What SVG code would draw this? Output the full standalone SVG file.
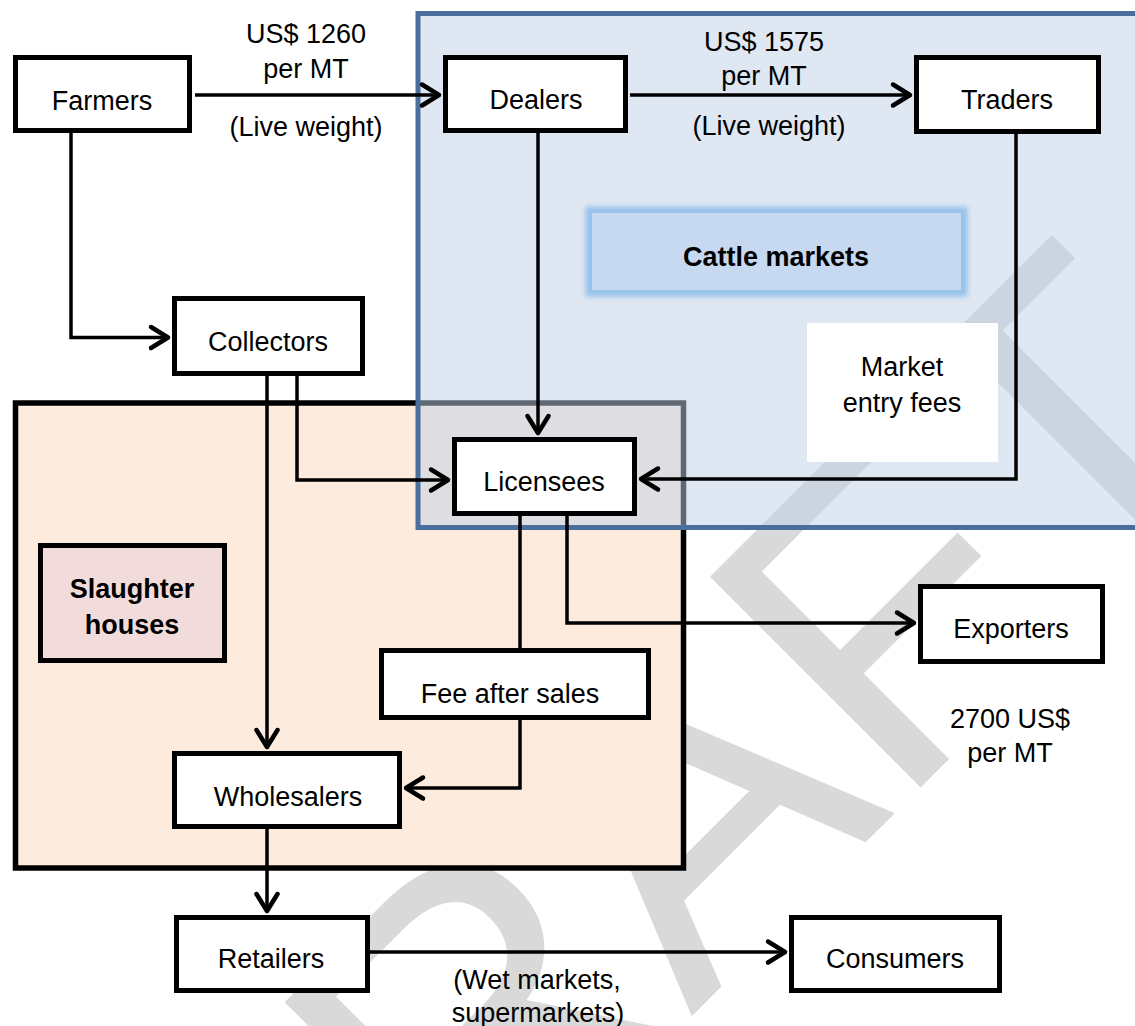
<svg xmlns="http://www.w3.org/2000/svg" width="1135" height="1026" viewBox="0 0 1135 1026">
<defs>
<style>
.box{fill:#fff;stroke:#000;stroke-width:5}
.conn{fill:none;stroke:#000;stroke-width:3.5}
.t{font-family:"Liberation Sans",Arial,sans-serif;font-size:27px;text-anchor:middle;fill:#000}
.b{font-weight:bold}
</style>
<marker id="arr" markerUnits="userSpaceOnUse" markerWidth="40" markerHeight="40" viewBox="-25 -20 30 40" refX="0" refY="0" orient="auto" overflow="visible">
<path d="M-17,-10.5 L0,0 L-17,10.5" fill="none" stroke="#000" stroke-width="4.5" stroke-linecap="round" stroke-linejoin="round"/>
</marker>
<filter id="blur" x="-20%" y="-50%" width="140%" height="200%">
<feGaussianBlur stdDeviation="2.5"/>
</filter>
</defs>
<rect width="1135" height="1026" fill="#fff"/>
<g id="watermark">
<text x="249" y="1459" transform="rotate(-45 249 1459)" font-family="Liberation Sans, Arial, sans-serif" font-size="433" fill="#d9d9d9">DRAFT</text>
</g>
<g id="slaughter-area">
<rect x="15.5" y="403" width="668" height="465" fill="#fdebde" stroke="#000" stroke-width="5.5"/>
</g>
<g id="slaughter-houses">
<rect x="40.5" y="545.5" width="184" height="115" fill="#f2dcdb" stroke="#000" stroke-width="5"/>
<text class="t b" x="132" y="598">Slaughter</text>
<text class="t b" x="132" y="634">houses</text>
</g>
<g id="market-area">
<rect x="418" y="13.5" width="730" height="514" fill="rgb(192,207,230)" fill-opacity="0.5" stroke="#4a6f9c" stroke-width="5"/>
</g>
<g id="cattle-markets">
<rect x="592" y="213" width="369" height="77" fill="none" stroke="#96c2ec" stroke-width="13" filter="url(#blur)"/>
<rect x="592" y="213" width="369" height="77" fill="#c6d9f0"/>
<text class="t b" x="776" y="266">Cattle markets</text>
</g>
<g id="market-entry-fees">
<rect x="807" y="323" width="191" height="139" fill="#fff"/>
<text class="t" x="902" y="376">Market</text>
<text class="t" x="902" y="412">entry fees</text>
</g>
<g id="connectors">
<path class="conn" d="M195,95 H439" marker-end="url(#arr)"/>
<path class="conn" d="M630,95 H910" marker-end="url(#arr)"/>
<path class="conn" d="M71,133 V337.5 H168" marker-end="url(#arr)"/>
<path class="conn" d="M538,133 V433" marker-end="url(#arr)"/>
<path class="conn" d="M297,376 V480 H448" marker-end="url(#arr)"/>
<path class="conn" d="M267,376 V747" marker-end="url(#arr)"/>
<path class="conn" d="M1016,134 V479 H641" marker-end="url(#arr)"/>
<path class="conn" d="M520,516 V648"/>
<path class="conn" d="M520,720 V788 H406" marker-end="url(#arr)"/>
<path class="conn" d="M567,516 V623 H914" marker-end="url(#arr)"/>
<path class="conn" d="M267,829 V911" marker-end="url(#arr)"/>
<path class="conn" d="M370,952 H785" marker-end="url(#arr)"/>
</g>
<g id="edge-labels">
<text class="t" x="306" y="43">US$ 1260</text>
<text class="t" x="306" y="78">per MT</text>
<text class="t" x="306" y="136">(Live weight)</text>
<text class="t" x="764" y="51">US$ 1575</text>
<text class="t" x="764" y="85">per MT</text>
<text class="t" x="769" y="135">(Live weight)</text>
<text class="t" x="1010" y="728">2700 US$</text>
<text class="t" x="1010" y="762">per MT</text>
<text class="t" x="537" y="989">(Wet markets,</text>
<text class="t" x="538" y="1022">supermarkets)</text>
</g>
<g id="farmers">
<rect class="box" x="15.5" y="57.5" width="174" height="73"/>
<text class="t" x="102" y="110">Farmers</text>
</g>
<g id="dealers">
<rect class="box" x="445.5" y="57.5" width="180" height="73"/>
<text class="t" x="536" y="109">Dealers</text>
</g>
<g id="traders">
<rect class="box" x="916.5" y="57.5" width="182" height="74"/>
<text class="t" x="1007" y="109">Traders</text>
</g>
<g id="collectors">
<rect class="box" x="174.5" y="298.5" width="188" height="75"/>
<text class="t" x="268" y="351">Collectors</text>
</g>
<g id="licensees">
<rect class="box" x="454.5" y="439.5" width="180" height="74"/>
<text class="t" x="544" y="491">Licensees</text>
</g>
<g id="exporters">
<rect class="box" x="920.5" y="586.5" width="182" height="75"/>
<text class="t" x="1011" y="638">Exporters</text>
</g>
<g id="fee-after-sales">
<rect class="box" x="381.5" y="650.5" width="267" height="67"/>
<text class="t" x="510" y="703">Fee after sales</text>
</g>
<g id="wholesalers">
<rect class="box" x="174.5" y="753.5" width="225" height="73"/>
<text class="t" x="288" y="806">Wholesalers</text>
</g>
<g id="retailers">
<rect class="box" x="176.5" y="917.5" width="191" height="73"/>
<text class="t" x="271" y="968">Retailers</text>
</g>
<g id="consumers">
<rect class="box" x="791.5" y="917.5" width="208" height="73"/>
<text class="t" x="895" y="968">Consumers</text>
</g>
</svg>
